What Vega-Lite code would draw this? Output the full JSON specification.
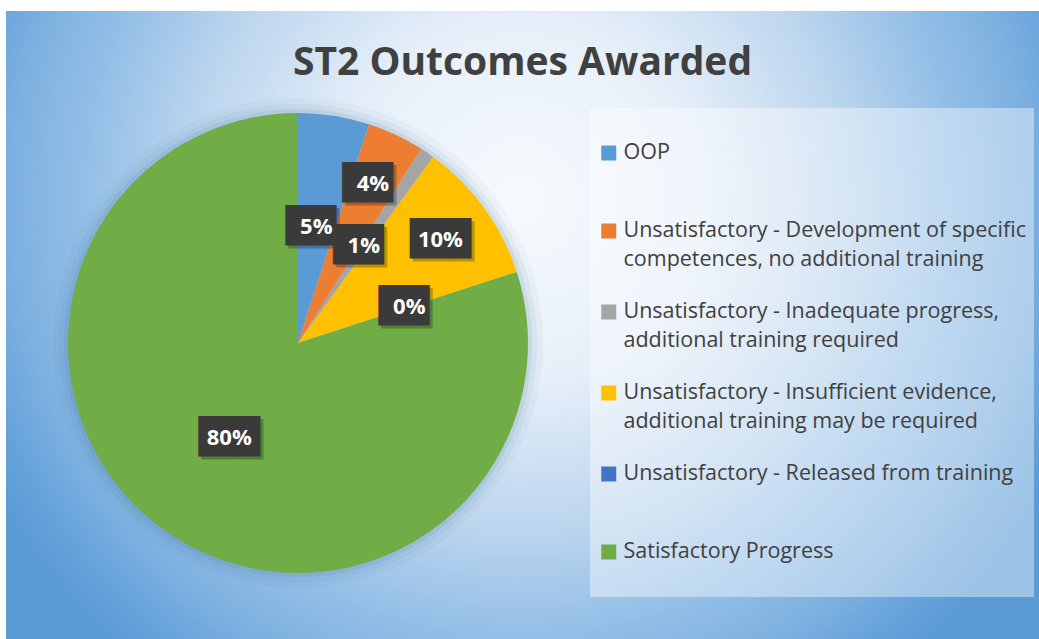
{
  "$schema": "https://vega.github.io/schema/vega-lite/v6.json",
  "padding": {"left": 6, "top": 11, "right": 0, "bottom": 0},
  "background": "white",
  "datasets": {
    "outcomes": [
      {"rank": 1, "outcome": "OOP", "share": 0.05},
      {"rank": 2, "outcome": "Unsatisfactory - Development of specific competences, no additional training", "share": 0.04},
      {"rank": 3, "outcome": "Unsatisfactory - Inadequate progress, additional training required", "share": 0.01},
      {"rank": 4, "outcome": "Unsatisfactory - Insufficient evidence, additional training may be required", "share": 0.10},
      {"rank": 5, "outcome": "Unsatisfactory - Released from training", "share": 0.00},
      {"rank": 6, "outcome": "Satisfactory Progress", "share": 0.80}
    ]
  },
  "title": {
    "text": "ST2 Outcomes Awarded",
    "font": "Open Sans",
    "fontSize": 39,
    "fontWeight": "bold",
    "color": "#404040",
    "anchor": "middle",
    "offset": -72
  },
  "spacing": 0,
  "hconcat": [
    {
      "width": 584,
      "height": 664,
      "data": {"name": "outcomes"},
      "layer": [
        {
          "transform": [{"aggregate": [{"op": "count", "as": "n"}]}],
          "mark": {
            "type": "rect",
            "fill": {
              "gradient": "radial",
              "x1": 0.834, "y1": 0.285, "r1": 0,
              "x2": 0.834, "y2": 0.285, "r2": 0.904,
              "stops": [
                {"offset": 0, "color": "#f7fafd"},
                {"offset": 0.3, "color": "#e6eff9"},
                {"offset": 0.55, "color": "#bcd5ee"},
                {"offset": 0.73, "color": "#92bee6"},
                {"offset": 0.85, "color": "#7db0e0"},
                {"offset": 0.92, "color": "#6aa5dc"},
                {"offset": 1, "color": "#5b9bd5"}
              ]
            }
          }
        },
        {
          "transform": [{"aggregate": [{"op": "sum", "field": "share", "as": "share"}]}],
          "mark": {"type": "arc", "outerRadius": 245, "fill": "#2e5f8a", "opacity": 0.04},
          "encoding": {"theta": {"field": "share", "type": "quantitative"}}
        },
        {
          "transform": [{"aggregate": [{"op": "sum", "field": "share", "as": "share"}]}],
          "mark": {"type": "arc", "outerRadius": 239, "fill": "#2e5f8a", "opacity": 0.06},
          "encoding": {"theta": {"field": "share", "type": "quantitative"}}
        },
        {
          "transform": [{"aggregate": [{"op": "sum", "field": "share", "as": "share"}]}],
          "mark": {"type": "arc", "outerRadius": 234, "fill": "#2e5f8a", "opacity": 0.09},
          "encoding": {"theta": {"field": "share", "type": "quantitative"}}
        },
        {
          "mark": {"type": "arc", "outerRadius": 230},
          "encoding": {
            "theta": {"field": "share", "type": "quantitative", "stack": true},
            "order": {"field": "rank", "type": "quantitative"},
            "color": {
              "field": "outcome",
              "type": "nominal",
              "scale": {
                "domain": [
                  "OOP",
                  "Unsatisfactory - Development of specific competences, no additional training",
                  "Unsatisfactory - Inadequate progress, additional training required",
                  "Unsatisfactory - Insufficient evidence, additional training may be required",
                  "Unsatisfactory - Released from training",
                  "Satisfactory Progress"
                ],
                "range": ["#5b9bd5", "#ed7d31", "#a5a5a5", "#ffc000", "#4472c4", "#70ad47"]
              },
              "legend": {
                "title": null,
                "orient": "none",
                "legendX": 584,
                "legendY": 97,
                "fillColor": "rgba(255,255,255,0.4)",
                "padding": 8,
                "symbolType": "square",
                "symbolSize": 225,
                "symbolStrokeWidth": 0,
                "labelFont": "Open Sans",
                "labelFontSize": 21.5,
                "labelColor": "#404040",
                "labelLimit": 600,
                "labelOffset": 4,
                "labelBaseline": "middle",
                "clipHeight": 74,
                "rowPadding": 4,
                "labelExpr": "datum.label == 'Unsatisfactory - Development of specific competences, no additional training' ? ['Unsatisfactory - Development of specific', 'competences, no additional training'] : datum.label == 'Unsatisfactory - Inadequate progress, additional training required' ? ['Unsatisfactory - Inadequate progress,', 'additional training required'] : datum.label == 'Unsatisfactory - Insufficient evidence, additional training may be required' ? ['Unsatisfactory - Insufficient evidence,', 'additional training may be required'] : datum.label"
              }
            }
          }
        },
        {
          "mark": {
            "type": "text",
            "radius": {"expr": "datum.rank == 2 || datum.rank == 4 ? 176 : 117"},
            "text": {"expr": "datum.share >= 0.1 ? '███' : '██▌'"},
            "font": "DejaVu Sans Mono",
            "fontSize": 34,
            "baseline": "middle",
            "align": "center",
            "color": "#000000",
            "opacity": 0.25,
            "dx": 3,
            "dy": 3
          },
          "encoding": {
            "theta": {"field": "share", "type": "quantitative", "stack": true},
            "order": {"field": "rank", "type": "quantitative"},
            "detail": {"field": "outcome"}
          }
        },
        {
          "mark": {
            "type": "text",
            "radius": {"expr": "datum.rank == 2 || datum.rank == 4 ? 176 : 117"},
            "text": {"expr": "datum.share >= 0.1 ? '███' : '██▌'"},
            "font": "DejaVu Sans Mono",
            "fontSize": 34,
            "baseline": "middle",
            "align": "center",
            "color": "#3a3a3a"
          },
          "encoding": {
            "theta": {"field": "share", "type": "quantitative", "stack": true},
            "order": {"field": "rank", "type": "quantitative"},
            "detail": {"field": "outcome"}
          }
        },
        {
          "mark": {
            "type": "text",
            "radius": {"expr": "datum.rank == 2 || datum.rank == 4 ? 176 : 117"},
            "font": "Open Sans",
            "fontWeight": "bold",
            "fontSize": 22,
            "baseline": "middle",
            "align": "center",
            "color": "#ffffff"
          },
          "encoding": {
            "theta": {"field": "share", "type": "quantitative", "stack": true},
            "order": {"field": "rank", "type": "quantitative"},
            "detail": {"field": "outcome"},
            "text": {"field": "share", "type": "quantitative", "format": ".0%"}
          }
        }
      ]
    },
    {
      "width": 449,
      "height": 628,
      "data": {"name": "outcomes"},
      "transform": [{"aggregate": [{"op": "count", "as": "n"}]}],
      "mark": {
        "type": "rect",
        "fill": {
          "gradient": "radial",
          "x1": 0.031, "y1": 0.301, "r1": 0,
          "x2": 0.031, "y2": 0.301, "r2": 0.955,
          "stops": [
            {"offset": 0, "color": "#f7fafd"},
            {"offset": 0.3, "color": "#e6eff9"},
            {"offset": 0.55, "color": "#bcd5ee"},
            {"offset": 0.73, "color": "#92bee6"},
            {"offset": 0.85, "color": "#7db0e0"},
            {"offset": 0.92, "color": "#6aa5dc"},
            {"offset": 1, "color": "#5b9bd5"}
          ]
        }
      }
    }
  ],
  "config": {
    "view": {"stroke": null},
    "style": {"guide-label": {"lineHeight": 29}}
  }
}
